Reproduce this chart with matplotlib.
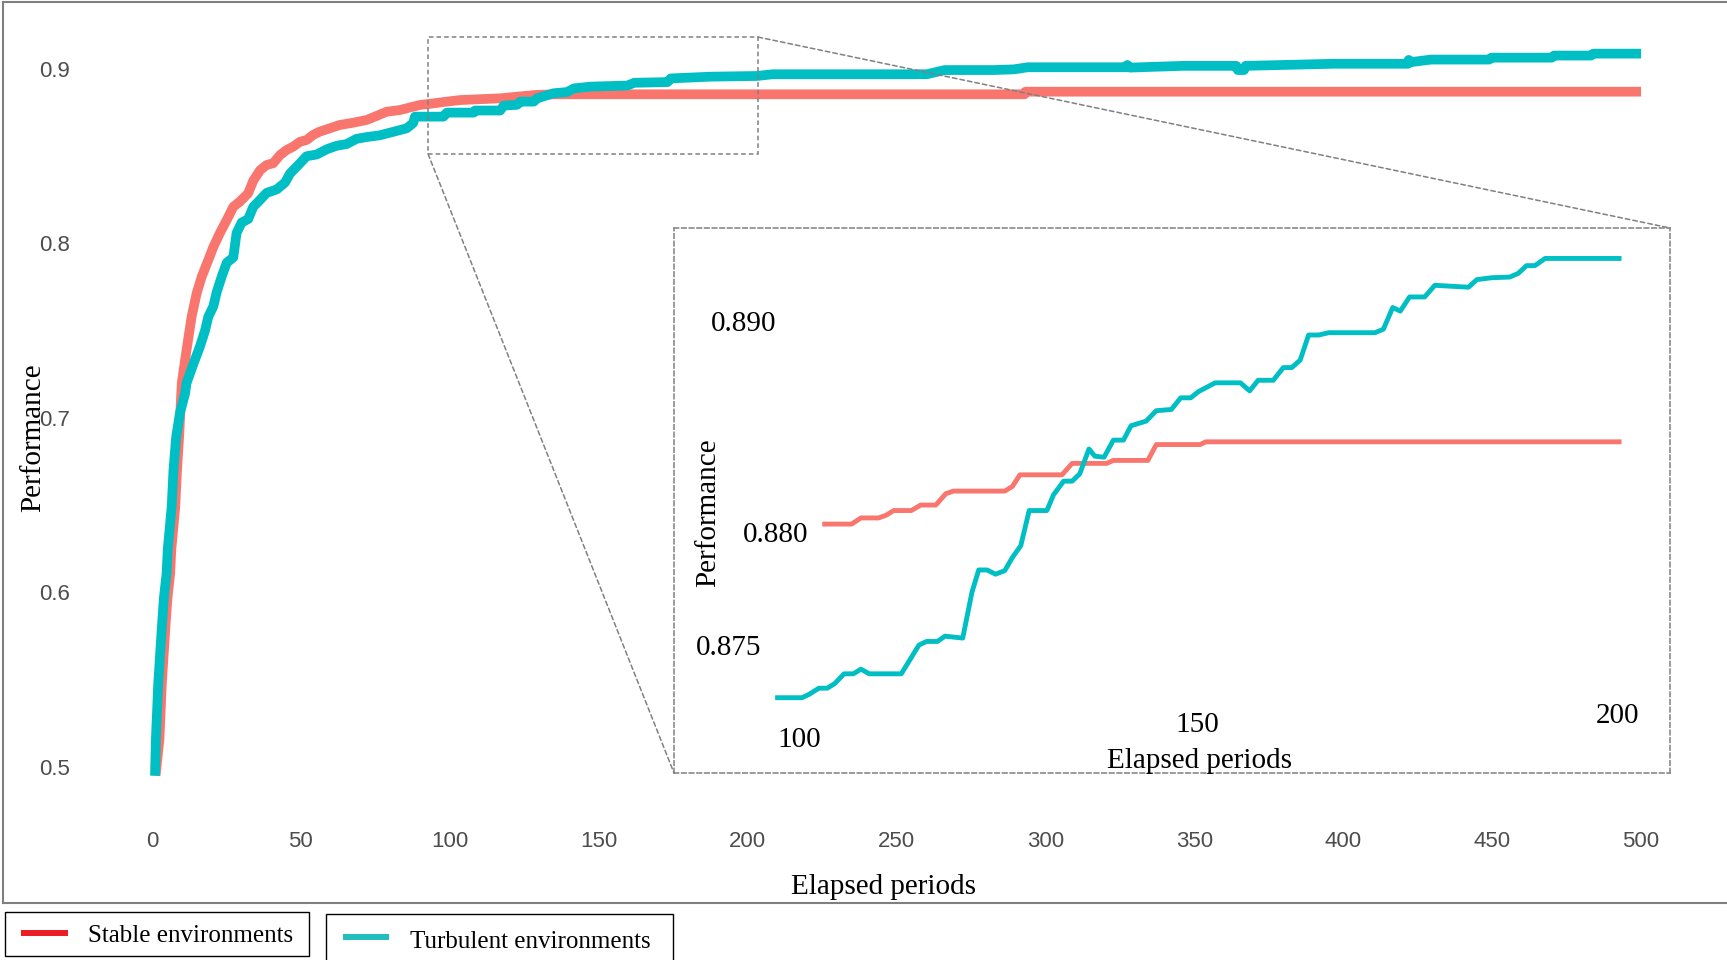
import matplotlib.pyplot as plt
from matplotlib.patches import Rectangle, ConnectionPatch
from matplotlib.lines import Line2D

# Main curves (elapsed period, performance)
stable_x = [1.2, 2.5, 3.3, 3.9, 4.5, 5.2, 6.1, 6.5, 7.2, 7.8, 8.4, 9.1, 10.0, 11.6, 13.3,
            15.0, 16.7, 18.9, 20.6, 22.8, 25.1, 27.3, 29.5, 32.3, 34.0, 36.3, 38.5, 40.7,
            43.0, 45.2, 47.4, 49.7, 51.9, 54.1, 56.3, 59.7, 63.0, 67.5, 72.1, 75.4, 78.8,
            83.3, 86.7, 90.0, 94.5, 99.0, 103.4, 116.9, 128.6, 135.0, 293.0, 293.3, 500.0]
stable_y = [0.495, 0.516, 0.548, 0.564, 0.580, 0.597, 0.611, 0.625, 0.638, 0.649, 0.670,
            0.689, 0.720, 0.739, 0.758, 0.7715, 0.781, 0.7905, 0.798, 0.806, 0.8135, 0.821,
            0.824, 0.8288, 0.836, 0.842, 0.845, 0.846, 0.8507, 0.8536, 0.8555, 0.8583,
            0.8593, 0.8622, 0.8641, 0.866, 0.8679, 0.8692, 0.8708, 0.8731, 0.8755, 0.8765,
            0.878, 0.8794, 0.8803, 0.8813, 0.8822, 0.8832, 0.8851, 0.8855, 0.8855, 0.8870,
            0.8870]

turb_x = [1.0, 1.3, 2.1, 2.7, 3.3, 4.0, 4.9, 5.3, 6.0, 6.6, 7.2, 8.1, 9.4, 11.1, 11.6, 13.9,
          16.1, 17.8, 18.9, 20.6, 21.7, 23.4, 25.1, 27.3, 28.4, 30.1, 32.3, 34.0, 36.3, 38.5,
          41.9, 44.7, 46.3, 49.7, 51.9, 55.3, 58.7, 62.0, 65.4, 68.7, 72.1, 76.5, 81.0, 85.5,
          87.7, 88.3, 97.9, 99.0, 108.0, 108.5, 116.9, 118.1, 122.6, 123.7, 128.2, 129.3,
          134.9, 139.4, 141.7, 147.3, 159.6, 161.9, 173.1, 174.2, 187.5, 203.2, 208.4, 260.2,
          266.2, 282.6, 289.4, 294.1, 326.8, 327.5, 328.3, 346.2, 364.1, 364.6, 366.7, 367.2,
          396.8, 421.8, 422.0, 423.0, 429.5, 449.0, 449.8, 470.0, 470.8, 483.2, 484.0, 500.0]
turb_y = [0.495, 0.516, 0.548, 0.564, 0.580, 0.597, 0.611, 0.625, 0.638, 0.649, 0.670, 0.689,
          0.703, 0.714, 0.720, 0.731, 0.741, 0.750, 0.758, 0.764, 0.772, 0.781, 0.789, 0.792,
          0.806, 0.812, 0.814, 0.821, 0.825, 0.829, 0.831, 0.835, 0.840, 0.846, 0.850, 0.851,
          0.854, 0.856, 0.857, 0.860, 0.861, 0.862, 0.864, 0.866, 0.869, 0.8727, 0.8727,
          0.8750, 0.8750, 0.8762, 0.8762, 0.8790, 0.8795, 0.8813, 0.8813, 0.8832, 0.8861,
          0.8868, 0.8889, 0.8899, 0.8905, 0.8921, 0.8925, 0.8946, 0.8956, 0.8960, 0.8970,
          0.8970, 0.8994, 0.8994, 0.8998, 0.9010, 0.9010, 0.9023, 0.9008, 0.9018, 0.9018,
          0.8994, 0.8994, 0.9018, 0.9030, 0.9030, 0.9052, 0.9040, 0.9054, 0.9054, 0.9065,
          0.9065, 0.9077, 0.9077, 0.9088, 0.9088]

# Zoomed detail, periods 100-200
inset_stable_x = [105.6, 108.8, 109.9, 112.0, 112.9, 113.8, 115.9, 117.0, 118.8, 120.0, 120.9,
                  127.0, 127.9, 128.8, 133.8, 135.0, 139.1, 139.9, 144.0, 145.0, 150.2, 150.9,
                  200.0]
inset_stable_y = [0.88037, 0.88037, 0.88066, 0.88066, 0.88079, 0.88101, 0.88101, 0.88127,
                  0.88127, 0.88181, 0.88193, 0.88193, 0.88215, 0.88270, 0.88270, 0.88324,
                  0.88324, 0.88338, 0.88338, 0.88413, 0.88413, 0.88426, 0.88426]

inset_turb_x = [100.0, 102.9, 103.8, 104.9, 105.9, 106.8, 107.9, 109.0, 109.9, 110.9, 114.7,
                116.8, 117.7, 119.0, 119.9, 122.0, 123.1, 123.9, 124.9, 125.9, 127.0, 127.9,
                128.9, 129.9, 132.0, 132.8, 134.0, 135.0, 135.9, 137.0, 137.7, 138.8, 139.9,
                141.1, 142.0, 143.8, 145.0, 146.8, 147.9, 149.1, 150.0, 152.0, 155.0, 156.1,
                157.1, 158.9, 160.1, 161.1, 162.1, 163.1, 164.3, 165.5, 171.0, 172.0, 173.1,
                174.0, 175.1, 176.9, 178.1, 182.1, 183.1, 184.9, 187.0, 188.0, 189.0, 190.0,
                191.2, 200.0]
inset_turb_y = [0.87216, 0.87216, 0.87233, 0.87261, 0.87261, 0.87283, 0.87329, 0.87329,
                0.87351, 0.87329, 0.87329, 0.87465, 0.87482, 0.87482, 0.87507, 0.87498,
                0.87715, 0.87820, 0.87820, 0.87800, 0.87817, 0.87879, 0.87935, 0.88101,
                0.88101, 0.88176, 0.88240, 0.88240, 0.88274, 0.88392, 0.88358, 0.88353,
                0.88434, 0.88434, 0.88502, 0.88524, 0.88573, 0.88579, 0.88634, 0.88634,
                0.88663, 0.88705, 0.88705, 0.88667, 0.88717, 0.88717, 0.88777, 0.88777,
                0.88812, 0.88931, 0.88931, 0.88942, 0.88942, 0.88959, 0.89061, 0.89044,
                0.89111, 0.89111, 0.89166, 0.89157, 0.89193, 0.89202, 0.89205, 0.89222,
                0.89259, 0.89259, 0.89293, 0.89293]

x_ticks = [0, 50, 100, 150, 200, 250, 300, 350, 400, 450, 500]
y_ticks = [0.5, 0.6, 0.7, 0.8, 0.9]
y_tick_labels = ['0.5', '0.6', '0.7', '0.8', '0.9']
zoom_box_x = (92.7, 203.5)
zoom_box_y = (0.8513, 0.9183)

RED = '#F8766D'
TEAL = '#00BFC4'
GREY = '#808080'
SERIF = ['Liberation Serif', 'DejaVu Serif']
NARROW = ['Liberation Sans Narrow', 'Liberation Sans', 'DejaVu Sans']

W, H = 1727, 960


def fx(px):
    return px / W


def fy(py):
    return 1 - py / H


fig = plt.figure(figsize=(W / 100, H / 100), dpi=100)

# Main panel
ax = fig.add_axes([fx(95), fy(815), (1700 - 95) / W, (815 - 20) / H])
ax.plot(stable_x, stable_y, color=RED, lw=7, solid_capstyle='butt')
ax.plot(turb_x, turb_y, color=TEAL, lw=7, solid_capstyle='butt')
ax.set_xlim(-19.14, 519.8)
ax.set_ylim(0.47249, 0.92808)
ax.set_xticks(x_ticks)
ax.set_yticks(y_ticks)
ax.set_yticklabels(y_tick_labels)
for s in ax.spines.values():
    s.set_visible(False)
ax.tick_params(axis='both', length=0, labelsize=16, labelcolor='#4D4D4D')
ax.tick_params(axis='y', pad=18)
ax.tick_params(axis='x', pad=11.5)
for lab in ax.get_xticklabels() + ax.get_yticklabels():
    lab.set_family(NARROW)
ax.text(0.4911, -0.0901, 'Elapsed periods', transform=ax.transAxes, ha='center',
        va='center', fontsize=21, family=SERIF)
ax.text(-0.0386, 0.4742, 'Performance', transform=ax.transAxes, ha='center',
        va='center', rotation=90, fontsize=21, family=SERIF)

# Zoom region marker
ax.add_patch(Rectangle((zoom_box_x[0], zoom_box_y[0]), zoom_box_x[1] - zoom_box_x[0],
                       zoom_box_y[1] - zoom_box_y[0], fill=False, ec=GREY, lw=1.1,
                       ls=(0, (3, 2)), zorder=5))

# Inset
axins = fig.add_axes([fx(674), fy(773), 996 / W, 545 / H])
axins.plot(inset_stable_x, inset_stable_y, color=RED, lw=3.5)
axins.plot(inset_turb_x, inset_turb_y, color=TEAL, lw=3.5)
axins.set_xlim(87.69, 206.05)
axins.set_ylim(0.8686, 0.89437)
axins.set_xticks([])
axins.set_yticks([])
for s in axins.spines.values():
    s.set_color(GREY)
    s.set_linewidth(1.1)
    s.set_linestyle((0, (3, 2)))

inset_labels = [('0.890', 0.0697, 0.8243, 0), ('0.880', 0.1018, 0.4362, 0),
                ('0.875', 0.0553, 0.2301, 0), ('100', 0.1261, 0.0604, 0),
                ('150', 0.5253, 0.0887, 0), ('200', 0.9477, 0.1048, 0),
                ('Performance', 0.0343, 0.4785, 90), ('Elapsed periods', 0.5275, 0.0219, 0)]
for txt, px, py, rot in inset_labels:
    axins.text(px, py, txt, transform=axins.transAxes, ha='center', va='center',
               rotation=rot, fontsize=21, family=SERIF)

# Connector lines
for xa, ya, xb, yb in [(zoom_box_x[1], zoom_box_y[1], 1, 1), (zoom_box_x[0], zoom_box_y[0], 0, 0)]:
    con = ConnectionPatch(xyA=(xa, ya), coordsA=ax.transData, xyB=(xb, yb),
                          coordsB=axins.transAxes, color=GREY, lw=1.1, ls=(0, (3, 2)))
    fig.add_artist(con)

# Outer frame (left, top, bottom)
frame_kw = dict(transform=fig.transFigure, color='#7F7F7F', lw=1.5)
fig.add_artist(Line2D([fx(3), fx(3)], [fy(2), fy(903)], **frame_kw))
fig.add_artist(Line2D([fx(3), 1], [fy(2), fy(2)], **frame_kw))
fig.add_artist(Line2D([fx(3), 1], [fy(903), fy(903)], **frame_kw))

# Legend boxes
fig.add_artist(Rectangle((fx(4.5), fy(956)), (309 - 4.5) / W, 44 / H, transform=fig.transFigure,
                         fill=False, ec='black', lw=1))
fig.add_artist(Rectangle((fx(326), fy(975)), (673 - 326) / W, 61 / H, transform=fig.transFigure,
                         fill=False, ec='black', lw=1))
fig.add_artist(Line2D([fx(21), fx(68)], [fy(933), fy(933)], transform=fig.transFigure,
                      color='#EC1C24', lw=4.3, solid_capstyle='butt'))
fig.add_artist(Line2D([fx(343), fx(389)], [fy(937), fy(937)], transform=fig.transFigure,
                      color='#22BDBD', lw=4.3, solid_capstyle='butt'))
fig.text(fx(88), fy(936.5), 'Stable environments', ha='left', va='center', fontsize=18,
         family=SERIF)
fig.text(fx(410), fy(941.5), 'Turbulent environments', ha='left', va='center', fontsize=18,
         family=SERIF)

fig.savefig('out.png', dpi=100)
